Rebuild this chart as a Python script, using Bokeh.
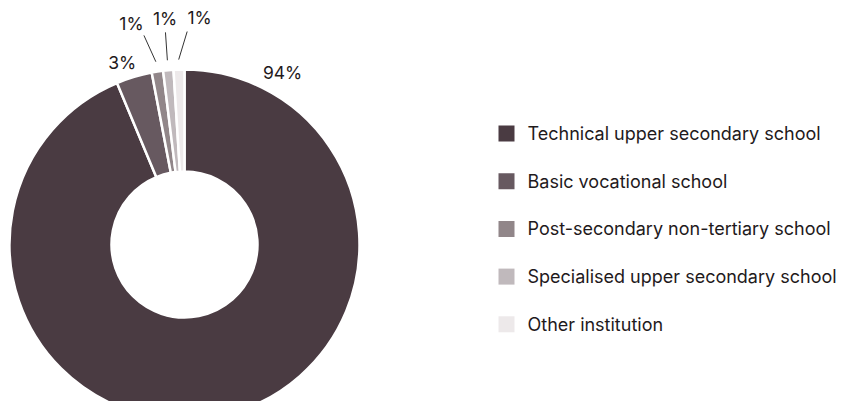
import math
from bokeh.plotting import figure
from bokeh.models import Range1d, ColumnDataSource
from bokeh.core.properties import value
from bokeh.embed import file_html
from bokeh.resources import INLINE

# ---- data ----
categories = ["Technical upper secondary school", "Basic vocational school",
              "Post-secondary non-tertiary school", "Specialised upper secondary school",
              "Other institution"]
shares = [93.7, 3.3, 1.05, 0.95, 1.0]
labels = ["94%", "3%", "1%", "1%", "1%"]
colors = ["#4a3b42", "#675960", "#918689", "#c0b9bc", "#ede9ea"]

# ---- layout (image px, y measured downward) ----
W, H = 840, 401
CX, CY = 184, 244
R_OUT, R_IN = 175, 73
FONT = "Inter"
TXT = "#1f1a1c"

def py(y):
    return -y

p = figure(width=W, height=H, output_backend="svg", toolbar_location=None,
           x_range=Range1d(0, W), y_range=Range1d(-H, 0),
           min_border=0, outline_line_color=None)
p.axis.visible = False
p.grid.visible = False
p.background_fill_color = "white"
p.border_fill_color = "white"

total = sum(shares)
starts, ends, mids = [], [], []
cum = 0.0
for s in shares:
    a_hi = math.pi / 2 - 2 * math.pi * cum / total
    a_lo = math.pi / 2 - 2 * math.pi * (cum + s) / total
    starts.append(a_lo)
    ends.append(a_hi)
    mids.append((a_lo + a_hi) / 2)
    cum += s

src = ColumnDataSource(dict(start=starts, end=ends, color=colors, cat=categories))
p.annular_wedge(x=CX, y=py(CY), inner_radius=R_IN, outer_radius=R_OUT,
                start_angle="start", end_angle="end", fill_color="color",
                line_color="white", line_width=2.5, source=src)

# ---- labels ----
lab_x, lab_y = [], []
line_x0, line_y0, line_x1, line_y1 = [], [], [], []
ang_off = [0, 2.2, 4.6, -0.4, -5.6]
for i, m in enumerate(mids):
    if i == 0:
        a = math.pi / 2 - math.radians(29.7)
        r = 198
    else:
        a = m + math.radians(ang_off[i])
        r = 192 if i == 1 else 227
    lab_x.append(CX + r * math.cos(a))
    lab_y.append(py(CY) + r * math.sin(a))
    if i >= 2:
        line_x0.append(CX + 185 * math.cos(m))
        line_y0.append(py(CY) + 185 * math.sin(m))
        a2 = m + math.radians(ang_off[i] * 0.45)
        line_x1.append(CX + 213 * math.cos(a2))
        line_y1.append(py(CY) + 213 * math.sin(a2))

p.segment(x0=line_x0, y0=line_y0, x1=line_x1, y1=line_y1,
          line_color="#333333", line_width=1)
p.text(x=lab_x, y=lab_y, text=labels, text_align="center", text_baseline="middle",
       text_font=value(FONT), text_font_size="17.5px", text_color=TXT)

# ---- legend ----
LX, LY0, LDY = 506, 133, 47.7
ly = [py(LY0 + i * LDY) for i in range(len(categories))]
p.rect(x=[LX] * len(categories), y=ly, width=16, height=16,
       fill_color=colors, line_color=None)
p.text(x=[LX + 21] * len(categories), y=ly, text=categories, text_align="left",
       text_baseline="middle", text_font=value(FONT), text_font_size="18px",
       text_color=TXT)

open("out.html", "w").write(file_html(p, INLINE))
